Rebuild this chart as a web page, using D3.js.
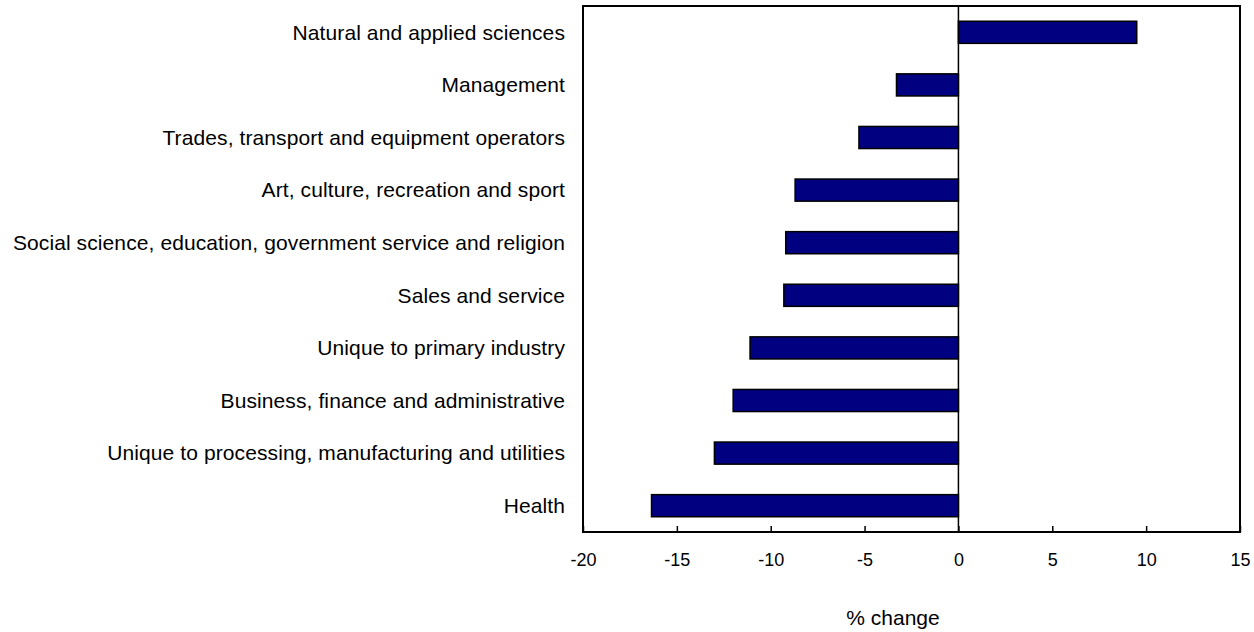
<!DOCTYPE html>
<html>
<head>
<meta charset="utf-8">
<script src="https://cdn.jsdelivr.net/npm/d3@7"></script>
<style>
  body { margin: 0; background: #fff; }
  text { font-family: "Liberation Sans", Arial, sans-serif; fill: #000; }
</style>
</head>
<body>
<div id="container"></div>
<script>
"use strict";

var categories = [
    "Natural and applied sciences",
    "Management",
    "Trades, transport and equipment operators",
    "Art, culture, recreation and sport",
    "Social science, education, government service and religion",
    "Sales and service",
    "Unique to primary industry",
    "Business, finance and administrative",
    "Unique to processing, manufacturing and utilities",
    "Health"
];
var values = [9.5, -3.3, -5.3, -8.7, -9.2, -9.3, -11.1, -12.0, -13.0, -16.35];
var ticks = [-20, -15, -10, -5, 0, 5, 10, 15];
var axisTitle = "% change";

var width = 1254;
var height = 632;
var margin = { left: 583, right: 14, top: 6, bottom: 100 };

var svg = d3.select("#container").append("svg")
    .attr("width", width).attr("height", height);

var x = d3.scaleLinear().domain([-20, 15]).range([margin.left, width - margin.right]);
var y = d3.scaleBand().domain(categories).range([margin.top, height - margin.bottom]).paddingInner(0.58).paddingOuter(0.29);

var data = categories.map(function (c, i) {
    return { label: c, value: values[i] };
});

// bars
svg.append("g").selectAll("rect").data(data).enter().append("rect")
    .attr("x", function (d) { return x(Math.min(0, d.value)); })
    .attr("y", function (d) { return y(d.label); })
    .attr("width", function (d) { return Math.abs(x(d.value) - x(0)); })
    .attr("height", y.bandwidth())
    .attr("fill", "#000080")
    .attr("stroke", "#000")
    .attr("stroke-width", 1.5);

// zero line
svg.append("line")
    .attr("x1", x(0)).attr("x2", x(0))
    .attr("y1", margin.top).attr("y2", height - margin.bottom)
    .attr("stroke", "#000").attr("stroke-width", 1.5);

// frame
svg.append("rect")
    .attr("x", margin.left).attr("y", margin.top)
    .attr("width", width - margin.right - margin.left)
    .attr("height", height - margin.bottom - margin.top)
    .attr("fill", "none").attr("stroke", "#000").attr("stroke-width", 2);

// x axis, ticks pointing inward, plain hyphen minus
var xAxis = svg.append("g")
    .attr("transform", "translate(0," + (height - margin.bottom) + ")")
    .call(d3.axisBottom(x).tickValues(ticks).tickFormat(function (d) { return String(d); })
        .tickSizeInner(-6).tickSizeOuter(0).tickPadding(21));
xAxis.select(".domain").remove();
xAxis.selectAll("line").attr("stroke", "#000").attr("stroke-width", 1.5);
xAxis.selectAll("text").attr("font-size", 18).attr("font-family", "'Liberation Sans', Arial, sans-serif");

// category labels
svg.append("g").selectAll("text").data(data).enter().append("text")
    .attr("x", 565)
    .attr("y", function (d) { return y(d.label) + y.bandwidth() / 2; })
    .attr("dy", "0.35em")
    .attr("text-anchor", "end")
    .attr("font-size", 21)
    .attr("letter-spacing", 0.1)
    .text(function (d) { return d.label; });

svg.append("text")
    .attr("x", 893).attr("y", 618)
    .attr("dy", "0.35em")
    .attr("text-anchor", "middle")
    .attr("font-size", 21)
    .text(axisTitle);
</script>
</body>
</html>
